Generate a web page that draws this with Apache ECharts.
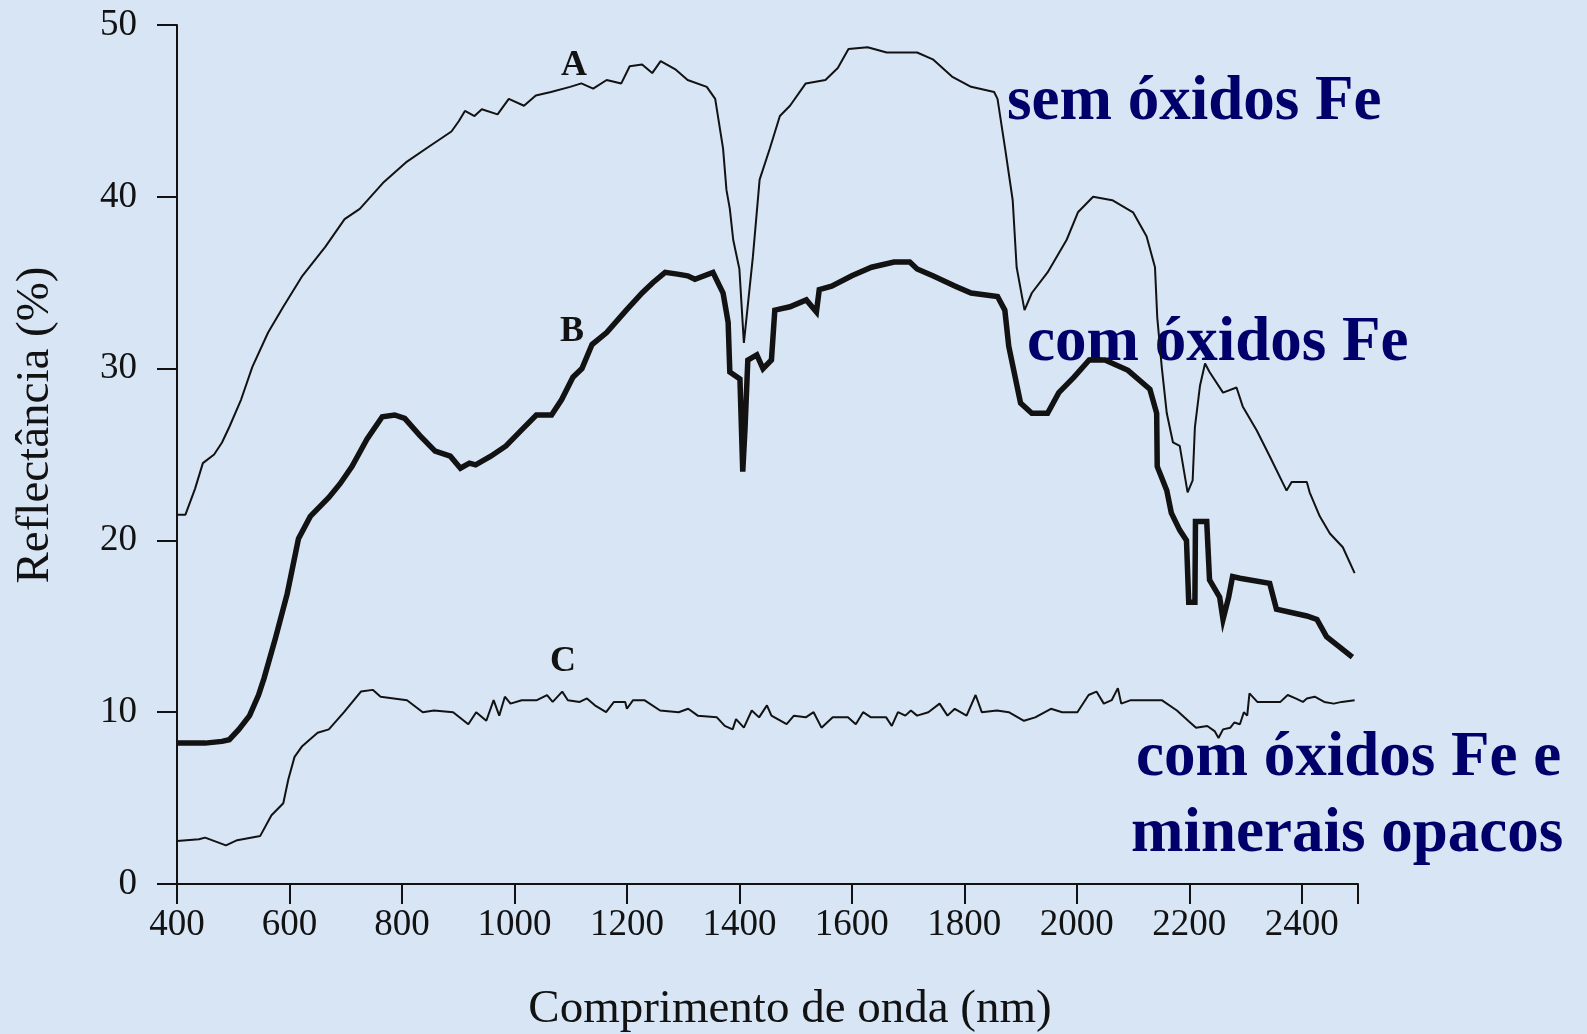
<!DOCTYPE html>
<html>
<head>
<meta charset="utf-8">
<title>Reflectância</title>
<script src="https://cdn.jsdelivr.net/npm/echarts@6/dist/echarts.min.js"></script>
<style>
html,body{margin:0;padding:0;background:#d7e5f5;}
#chart{width:1587px;height:1034px;}
</style>
</head>
<body>
<div id="chart"></div>
<script>
// eixos
var xTicks = [400, 600, 800, 1000, 1200, 1400, 1600, 1800, 2000, 2200, 2400];
var yTicks = [0, 10, 20, 30, 40, 50];
var xEnd = 2500;

// curva A - sem óxidos Fe  [nm, %]
var curveA = [
  [400,21.5],[415,21.5],[432,23.0],[446,24.5],[466,25.0],[480,25.7],[493,26.6],[514,28.2],
  [534,30.1],[562,32.1],[589,33.6],[623,35.4],[664,37.1],[698,38.7],[725,39.3],[766,40.8],
  [807,42.0],[847,42.9],[888,43.8],[901,44.4],[912,45.0],[929,44.7],[942,45.1],[970,44.8],
  [990,45.7],[1017,45.3],[1038,45.9],[1065,46.1],[1099,46.4],[1119,46.6],[1140,46.3],[1164,46.8],
  [1190,46.6],[1205,47.6],[1227,47.7],[1245,47.2],[1260,47.9],[1287,47.4],[1308,46.8],[1342,46.4],
  [1357,45.7],[1371,42.8],[1377,40.4],[1383,39.3],[1389,37.5],[1400,35.8],[1408,31.5],[1416,34.0],
  [1424,36.5],[1436,41.0],[1454,42.8],[1472,44.7],[1490,45.3],[1518,46.6],[1553,46.8],[1575,47.5],
  [1594,48.6],[1628,48.7],[1662,48.4],[1716,48.4],[1744,48.0],[1778,47.0],[1812,46.4],[1853,46.1],
  [1859,45.7],[1873,42.7],[1886,39.8],[1893,35.9],[1907,33.4],[1920,34.4],[1948,35.6],[1982,37.5],
  [2002,39.1],[2029,40.0],[2063,39.8],[2100,39.1],[2124,37.7],[2139,35.9],[2143,33.0],[2151,30.1],
  [2160,27.4],[2171,25.7],[2183,25.5],[2197,22.8],[2206,23.5],[2210,26.6],[2219,29.0],[2228,30.3],
  [2236,29.8],[2260,28.6],[2284,28.9],[2295,27.8],[2320,26.4],[2343,24.9],[2373,22.9],[2382,23.4],
  [2409,23.4],[2414,22.8],[2432,21.4],[2450,20.4],[2473,19.6],[2494,18.1]
];

// curva B - com óxidos Fe
var curveB = [
  [400,8.2],[420,8.2],[450,8.2],[480,8.3],[493,8.4],[510,9.0],[529,9.8],[545,11.0],
  [555,12.0],[575,14.3],[596,16.9],[616,20.1],[637,21.4],[670,22.5],[690,23.3],[711,24.3],
  [738,25.9],[765,27.2],[787,27.3],[805,27.1],[832,26.1],[859,25.2],[886,24.9],[904,24.2],
  [920,24.5],[931,24.4],[958,24.9],[985,25.5],[1012,26.4],[1039,27.3],[1066,27.3],[1084,28.2],
  [1104,29.5],[1120,30.0],[1138,31.4],[1164,32.1],[1199,33.4],[1227,34.4],[1246,35.0],[1268,35.6],
  [1290,35.5],[1308,35.4],[1321,35.2],[1353,35.6],[1371,34.4],[1380,32.7],[1383,29.8],[1401,29.4],
  [1406,24.0],[1410,26.5],[1415,30.5],[1431,30.8],[1442,30.0],[1457,30.5],[1463,33.4],[1490,33.6],
  [1519,34.0],[1537,33.3],[1542,34.6],[1564,34.8],[1600,35.4],[1635,35.9],[1675,36.2],[1703,36.2],
  [1716,35.8],[1744,35.4],[1784,34.8],[1812,34.4],[1859,34.2],[1872,33.4],[1879,31.3],[1900,28.0],
  [1920,27.4],[1948,27.4],[1968,28.6],[1995,29.5],[2022,30.5],[2050,30.5],[2091,29.9],[2130,28.8],
  [2142,27.4],[2143,24.3],[2160,22.9],[2168,21.6],[2183,20.6],[2195,20.0],[2199,16.4],[2210,16.4],
  [2211,21.1],[2231,21.1],[2236,17.7],[2254,16.7],[2260,15.4],[2270,16.7],[2277,17.9],[2290,17.8],
  [2343,17.5],[2355,16.0],[2409,15.6],[2427,15.4],[2444,14.4],[2467,13.8],[2490,13.2]
];

// curva C - com óxidos Fe e minerais opacos
var curveC = [
  [400,2.5],[439,2.6],[450,2.7],[487,2.25],[507,2.55],[548,2.8],[568,4.0],[589,4.7],
  [598,6.1],[609,7.4],[622,8.0],[650,8.8],[670,9.0],[697,10.0],[727,11.2],[748,11.3],
  [762,10.9],[809,10.7],[837,10.0],[857,10.1],[891,10.0],[918,9.3],[932,10.0],[950,9.5],
  [963,10.7],[973,9.8],[983,10.9],[993,10.5],[1013,10.7],[1040,10.7],[1058,11.0],[1068,10.6],
  [1085,11.2],[1095,10.7],[1116,10.6],[1129,10.8],[1143,10.4],[1163,10.0],[1177,10.6],[1197,10.6],
  [1200,10.2],[1211,10.7],[1231,10.7],[1259,10.1],[1292,10.0],[1309,10.2],[1326,9.8],[1360,9.7],
  [1374,9.2],[1388,9.0],[1394,9.6],[1408,9.1],[1422,10.1],[1435,9.7],[1449,10.4],[1457,9.8],
  [1484,9.3],[1497,9.8],[1518,9.7],[1532,10.0],[1546,9.1],[1566,9.7],[1593,9.7],[1607,9.3],
  [1620,10.0],[1634,9.7],[1661,9.7],[1671,9.2],[1682,10.0],[1695,9.8],[1705,10.1],[1716,9.8],
  [1736,10.0],[1756,10.5],[1770,9.8],[1783,10.2],[1804,9.8],[1820,11.0],[1831,10.0],[1858,10.1],
  [1879,10.0],[1906,9.5],[1926,9.7],[1954,10.2],[1974,10.0],[2001,10.0],[2021,11.0],[2035,11.2],
  [2048,10.5],[2062,10.7],[2073,11.4],[2079,10.5],[2096,10.7],[2151,10.7],[2178,10.1],[2198,9.5],
  [2212,9.1],[2232,9.2],[2245,8.9],[2252,8.5],[2260,9.0],[2273,9.1],[2280,9.4],[2290,9.3],
  [2297,10.0],[2303,9.8],[2307,11.1],[2321,10.6],[2362,10.6],[2375,11.0],[2389,10.8],[2402,10.6],
  [2409,10.8],[2423,10.9],[2440,10.6],[2457,10.5],[2471,10.6],[2494,10.7]
];

var serif = '"Liberation Serif", "Times New Roman", serif';
var ink = '#121212';
var navy = '#00006b';

var myChart = echarts.init(document.getElementById('chart'));

// rótulo de texto livre (centrado)
function label(txt, x, y, font, color, rot) {
    return {
        type: 'text', x: x, y: y, rotation: rot || 0,
        style: { text: txt, font: font, fill: color, align: 'center', verticalAlign: 'middle' }
    };
}
// anotação azul (alinhada à esquerda)
function note(txt, x, y) {
    return {
        type: 'text', x: x, y: y,
        style: { text: txt, font: 'bold 63px ' + serif, fill: navy, verticalAlign: 'middle' }
    };
}

var option = {
    animation: false,
    backgroundColor: '#d7e5f5',
    grid: { left: 177, right: 229, top: 25, bottom: 150, containLabel: false },
    xAxis: {
        type: 'value', min: xTicks[0], max: xEnd, interval: 200,
        splitLine: { show: false },
        axisLine: { lineStyle: { color: ink, width: 2 } },
        axisTick: { length: 20, lineStyle: { color: ink, width: 2 } },
        axisLabel: {
            margin: 23, color: ink, fontFamily: serif, fontSize: 37,
            formatter: function (v) { return xTicks.indexOf(v) >= 0 ? String(v) : ''; }
        }
    },
    yAxis: {
        type: 'value', min: yTicks[0], max: yTicks[yTicks.length - 1], interval: 10,
        splitLine: { show: false },
        axisLine: { lineStyle: { color: ink, width: 2 } },
        axisTick: { length: 20, lineStyle: { color: ink, width: 2 } },
        axisLabel: { margin: 40, color: ink, fontFamily: serif, fontSize: 37 }
    },
    series: [
        { name: 'A', type: 'line', data: curveA, symbol: 'none',
          lineStyle: { color: ink, width: 2 } },
        { name: 'B', type: 'line', data: curveB, symbol: 'none',
          lineStyle: { color: ink, width: 5.5, join: 'miter' } },
        { name: 'C', type: 'line', data: curveC, symbol: 'none',
          lineStyle: { color: ink, width: 2 } }
    ],
    graphic: [
        label('Comprimento de onda (nm)', 790, 1010, '47px ' + serif, ink),
        label('Reflectância (%)', 36, 425, '47px ' + serif, ink, Math.PI / 2),
        label('A', 574, 66, 'bold 36px ' + serif, ink),
        label('B', 572, 332, 'bold 36px ' + serif, ink),
        label('C', 563, 662, 'bold 36px ' + serif, ink),
        note('sem óxidos Fe', 1007, 103),
        note('com óxidos Fe', 1027, 344),
        note('com óxidos Fe e', 1136, 759),
        note('minerais opacos', 1131, 835)
    ]
};

myChart.setOption(option);
</script>
</body>
</html>
